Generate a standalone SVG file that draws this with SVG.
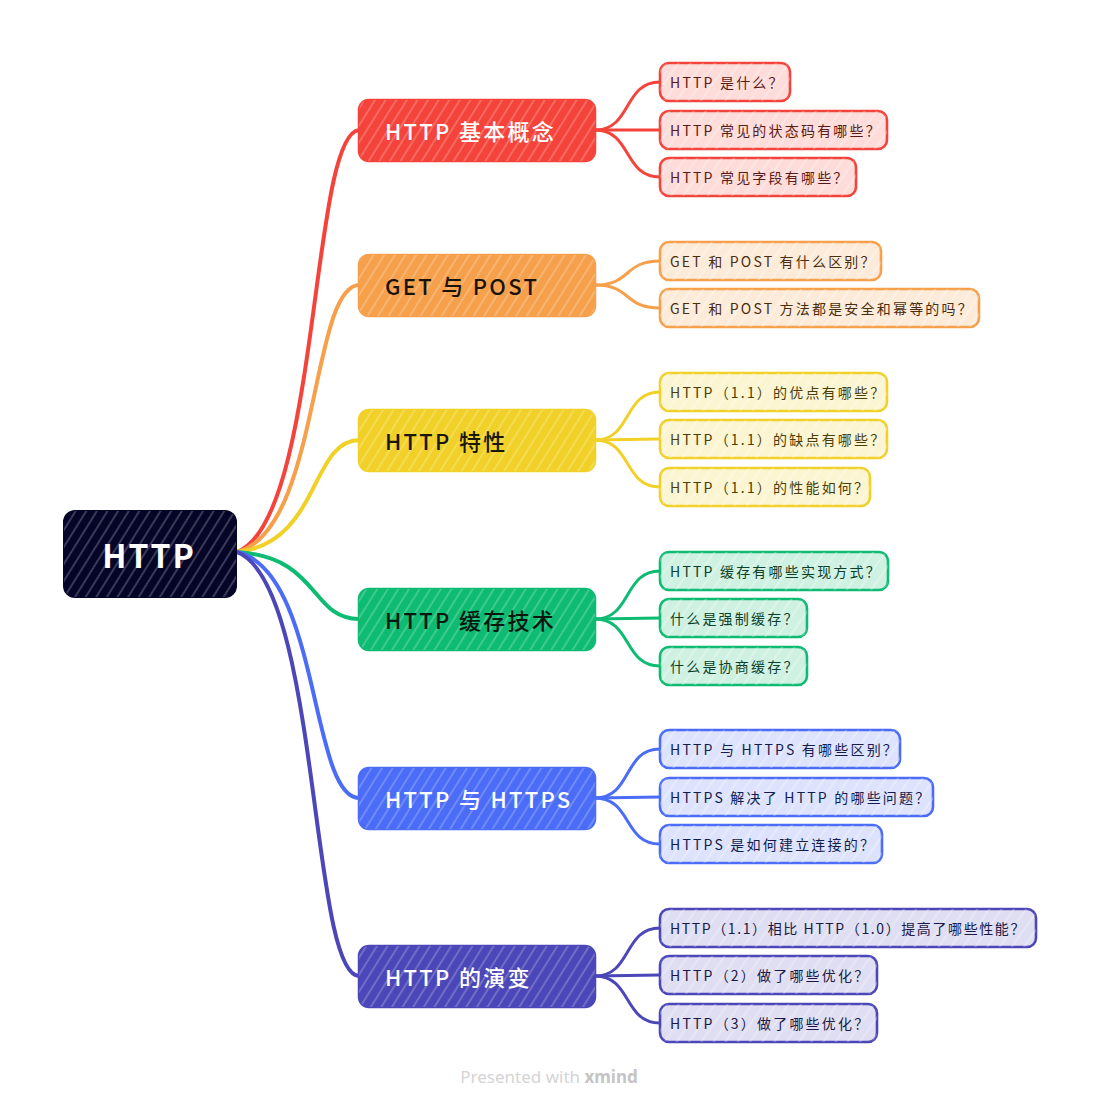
<svg xmlns="http://www.w3.org/2000/svg" width="1100" height="1107" viewBox="0 0 1100 1107">
<defs>
<pattern id="hatch" width="9" height="9" patternUnits="userSpaceOnUse" patternTransform="rotate(32)">
<line x1="2" y1="0" x2="2" y2="9" stroke="#ffffff" stroke-width="1.2" stroke-opacity="0.35"/>
</pattern>
<pattern id="hatchL" width="10" height="10" patternUnits="userSpaceOnUse" patternTransform="rotate(35)">
<line x1="2" y1="0" x2="2" y2="10" stroke="#ffffff" stroke-width="1" stroke-opacity="0.5"/>
</pattern>
<style>
.main rect.b{stroke-width:2.5;}
.mt{font-family:"Noto Sans CJK SC","Noto Sans",sans-serif;font-size:22px;font-weight:500;letter-spacing:2.3px;dominant-baseline:central;}
.lt{font-family:"Noto Sans CJK SC","Noto Sans",sans-serif;font-size:14px;letter-spacing:2.2px;dominant-baseline:central;}
.lt.narrow{letter-spacing:1.6px;}
.leaf rect{stroke-width:2.6;}
.conn path{fill:none;stroke-width:3;stroke-linecap:round;}
.conn path.t{stroke-width:4;}
.red{fill:#F4433A;stroke:#F4433A;}
.org{fill:#F6A04B;stroke:#F6A04B;}
.yel{fill:#F1D128;stroke:#F1D128;}
.grn{fill:#0DBB72;stroke:#0DBB72;}
.blu{fill:#4A6CF7;stroke:#4A6CF7;}
.ind{fill:#4B47B8;stroke:#4B47B8;}
.lred{fill:#FDDCDA;stroke:#F4433A;}
.lorg{fill:#FDEBDA;stroke:#F6A04B;}
.lyel{fill:#FCF5D1;stroke:#F1D128;}
.lgrn{fill:#CFF1E2;stroke:#0DBB72;}
.lblu{fill:#DDE3FD;stroke:#4A6CF7;}
.lind{fill:#DFDEF2;stroke:#4B47B8;}
.tred{fill:#5A1A16;}
.torg{fill:#4A2D0E;}
.tyel{fill:#4A3E08;}
.tgrn{fill:#0A3F29;}
.tblu{fill:#121C4E;}
.tind{fill:#1A1846;}
</style>
</defs>
<rect width="1100" height="1107" fill="#ffffff"/>

<g id="connectors" class="conn">
<path class="t" stroke="#F4433A" d="M237,552 C320,520 310,135 359,130"/>
<path class="t" stroke="#F6A04B" d="M237,552 C320,531 310,287 359,285"/>
<path class="t" stroke="#F1D128" d="M237,552 C320,543 310,441 359,440"/>
<path class="t" stroke="#0DBB72" d="M237,552 C320,557 310,619 359,619"/>
<path class="t" stroke="#4A6CF7" d="M237,552 C320,571 310,797 359,798"/>
<path class="t" stroke="#4B47B8" d="M237,552 C320,584 310,974 359,976"/>

<path stroke="#F4433A" d="M595,130 C632,130 623,82 660,82"/>
<path stroke="#F4433A" d="M595,130 L660,130"/>
<path stroke="#F4433A" d="M595,130 C632,130 623,177 660,177"/>
<path stroke="#F6A04B" d="M595,285 C632,285 623,261 660,261"/>
<path stroke="#F6A04B" d="M595,285 C632,285 623,308 660,308"/>
<path stroke="#F1D128" d="M595,440 C632,440 623,392 660,392"/>
<path stroke="#F1D128" d="M595,440 L660,439"/>
<path stroke="#F1D128" d="M595,440 C632,440 623,487 660,487"/>
<path stroke="#0DBB72" d="M595,619 C632,619 623,571 660,571"/>
<path stroke="#0DBB72" d="M595,619 L660,618"/>
<path stroke="#0DBB72" d="M595,619 C632,619 623,666 660,666"/>
<path stroke="#4A6CF7" d="M595,798 C632,798 623,749 660,749"/>
<path stroke="#4A6CF7" d="M595,798 L660,797"/>
<path stroke="#4A6CF7" d="M595,798 C632,798 623,844 660,844"/>
<path stroke="#4B47B8" d="M595,976 C632,976 623,928 660,928"/>
<path stroke="#4B47B8" d="M595,976 L660,975"/>
<path stroke="#4B47B8" d="M595,976 C632,976 623,1023 660,1023"/>
</g>

<g id="root">
<rect x="64" y="511" width="172" height="86" rx="11" fill="#050528" stroke="#050528" stroke-width="2"/>
<rect x="64" y="511" width="172" height="86" rx="11" fill="url(#hatch)"/>
<text x="149" y="554" text-anchor="middle" font-family="Noto Sans CJK SC, Noto Sans, sans-serif" font-size="32" font-weight="700" letter-spacing="2" fill="#ffffff" dominant-baseline="central">HTTP</text>
</g>

<g id="m1" class="main">
<rect class="b red" x="359" y="100" width="236" height="61" rx="10"/>
<rect x="359" y="100" width="236" height="61" rx="10" fill="url(#hatch)"/>
<text class="mt" x="385" y="130" fill="#ffffff">HTTP 基本概念</text>
</g>
<g id="m2" class="main">
<rect class="b org" x="359" y="255" width="236" height="61" rx="10"/>
<rect x="359" y="255" width="236" height="61" rx="10" fill="url(#hatch)"/>
<text class="mt" x="385" y="285" fill="#1A1208">GET 与 POST</text>
</g>
<g id="m3" class="main">
<rect class="b yel" x="359" y="410" width="236" height="61" rx="10"/>
<rect x="359" y="410" width="236" height="61" rx="10" fill="url(#hatch)"/>
<text class="mt" x="385" y="440" fill="#1A1608">HTTP 特性</text>
</g>
<g id="m4" class="main">
<rect class="b grn" x="359" y="589" width="236" height="61" rx="10"/>
<rect x="359" y="589" width="236" height="61" rx="10" fill="url(#hatch)"/>
<text class="mt" x="385" y="619" fill="#06180F">HTTP 缓存技术</text>
</g>
<g id="m5" class="main">
<rect class="b blu" x="359" y="768" width="236" height="61" rx="10"/>
<rect x="359" y="768" width="236" height="61" rx="10" fill="url(#hatch)"/>
<text class="mt" x="385" y="798" fill="#ffffff">HTTP 与 HTTPS</text>
</g>
<g id="m6" class="main">
<rect class="b ind" x="359" y="946" width="236" height="61" rx="10"/>
<rect x="359" y="946" width="236" height="61" rx="10" fill="url(#hatch)"/>
<text class="mt" x="385" y="976" fill="#ffffff">HTTP 的演变</text>
</g>

<g id="l1" class="leaf"><rect class="lred" x="660" y="63" width="130" height="38" rx="9"/><rect x="660" y="63" width="130" height="38" rx="9" fill="url(#hatchL)" stroke="none"/><text class="lt tred" x="670" y="82">HTTP 是什么？</text></g>
<g id="l2" class="leaf"><rect class="lred" x="660" y="111" width="227" height="38" rx="9"/><rect x="660" y="111" width="227" height="38" rx="9" fill="url(#hatchL)" stroke="none"/><text class="lt tred" x="670" y="130">HTTP 常见的状态码有哪些？</text></g>
<g id="l3" class="leaf"><rect class="lred" x="660" y="158" width="196" height="38" rx="9"/><rect x="660" y="158" width="196" height="38" rx="9" fill="url(#hatchL)" stroke="none"/><text class="lt tred" x="670" y="177">HTTP 常见字段有哪些？</text></g>

<g id="l4" class="leaf"><rect class="lorg" x="660" y="242" width="221" height="38" rx="9"/><rect x="660" y="242" width="221" height="38" rx="9" fill="url(#hatchL)" stroke="none"/><text class="lt torg" x="670" y="261">GET 和 POST 有什么区别？</text></g>
<g id="l5" class="leaf"><rect class="lorg" x="660" y="289" width="319" height="38" rx="9"/><rect x="660" y="289" width="319" height="38" rx="9" fill="url(#hatchL)" stroke="none"/><text class="lt torg" x="670" y="308">GET 和 POST 方法都是安全和幂等的吗？</text></g>

<g id="l6" class="leaf"><rect class="lyel" x="660" y="373" width="227" height="38" rx="9"/><rect x="660" y="373" width="227" height="38" rx="9" fill="url(#hatchL)" stroke="none"/><text class="lt tyel" x="670" y="392">HTTP（1.1）的优点有哪些？</text></g>
<g id="l7" class="leaf"><rect class="lyel" x="660" y="420" width="227" height="38" rx="9"/><rect x="660" y="420" width="227" height="38" rx="9" fill="url(#hatchL)" stroke="none"/><text class="lt tyel" x="670" y="439">HTTP（1.1）的缺点有哪些？</text></g>
<g id="l8" class="leaf"><rect class="lyel" x="660" y="468" width="210" height="38" rx="9"/><rect x="660" y="468" width="210" height="38" rx="9" fill="url(#hatchL)" stroke="none"/><text class="lt tyel" x="670" y="487">HTTP（1.1）的性能如何？</text></g>

<g id="l9" class="leaf"><rect class="lgrn" x="660" y="552" width="228" height="38" rx="9"/><rect x="660" y="552" width="228" height="38" rx="9" fill="url(#hatchL)" stroke="none"/><text class="lt tgrn" x="670" y="571">HTTP 缓存有哪些实现方式？</text></g>
<g id="l10" class="leaf"><rect class="lgrn" x="660" y="599" width="147" height="38" rx="9"/><rect x="660" y="599" width="147" height="38" rx="9" fill="url(#hatchL)" stroke="none"/><text class="lt tgrn" x="670" y="618">什么是强制缓存？</text></g>
<g id="l11" class="leaf"><rect class="lgrn" x="660" y="647" width="147" height="38" rx="9"/><rect x="660" y="647" width="147" height="38" rx="9" fill="url(#hatchL)" stroke="none"/><text class="lt tgrn" x="670" y="666">什么是协商缓存？</text></g>

<g id="l12" class="leaf"><rect class="lblu" x="660" y="730" width="240" height="38" rx="9"/><rect x="660" y="730" width="240" height="38" rx="9" fill="url(#hatchL)" stroke="none"/><text class="lt tblu" x="670" y="749">HTTP 与 HTTPS 有哪些区别？</text></g>
<g id="l13" class="leaf"><rect class="lblu" x="660" y="778" width="273" height="38" rx="9"/><rect x="660" y="778" width="273" height="38" rx="9" fill="url(#hatchL)" stroke="none"/><text class="lt tblu" x="670" y="797">HTTPS 解决了 HTTP 的哪些问题？</text></g>
<g id="l14" class="leaf"><rect class="lblu" x="660" y="825" width="222" height="38" rx="9"/><rect x="660" y="825" width="222" height="38" rx="9" fill="url(#hatchL)" stroke="none"/><text class="lt tblu" x="670" y="844">HTTPS 是如何建立连接的？</text></g>

<g id="l15" class="leaf"><rect class="lind" x="660" y="909" width="376" height="38" rx="9"/><rect x="660" y="909" width="376" height="38" rx="9" fill="url(#hatchL)" stroke="none"/><text class="lt narrow tind" x="670" y="928">HTTP（1.1）相比 HTTP（1.0）提高了哪些性能？</text></g>
<g id="l16" class="leaf"><rect class="lind" x="660" y="956" width="217" height="38" rx="9"/><rect x="660" y="956" width="217" height="38" rx="9" fill="url(#hatchL)" stroke="none"/><text class="lt tind" x="670" y="975">HTTP（2）做了哪些优化？</text></g>
<g id="l17" class="leaf"><rect class="lind" x="660" y="1004" width="217" height="38" rx="9"/><rect x="660" y="1004" width="217" height="38" rx="9" fill="url(#hatchL)" stroke="none"/><text class="lt tind" x="670" y="1023">HTTP（3）做了哪些优化？</text></g>

<g id="footer">
<text x="549" y="1076" text-anchor="middle" font-family="Noto Sans, sans-serif" font-size="17" fill="#D4D4D4" dominant-baseline="central">Presented with <tspan font-weight="700" fill="#C4C4C4">xmind</tspan></text>
</g>
</svg>
